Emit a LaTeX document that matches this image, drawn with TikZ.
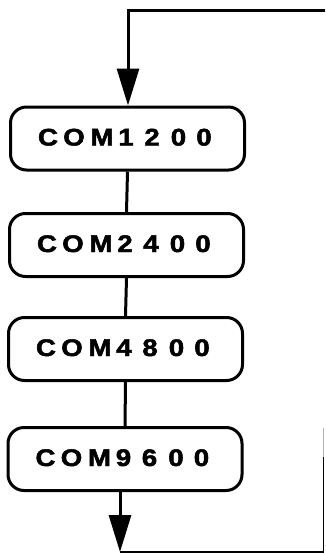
\documentclass[tikz,border=0pt]{standalone}
\usepackage{fontspec}
\usepackage{graphicx}
\setmainfont{Liberation Sans}
\newfontfamily\heavyfont[BoldFeatures={FakeBold=2}]{Liberation Sans}
\usetikzlibrary{arrows.meta,calc}
\newcommand\comlabel[5]{%
  \foreach \ch/\dx [count=\k] in {C/-79.5,O/-53.5,M/-25.5,#2/-1.5,#3/24.5,#4/51,#5/76.5}
    \node[chr] (#1c\k) at ($(#1.center)+(\dx,7)$) {\scalebox{1.15}[1]{\ch}};}
\begin{document}
\begin{tikzpicture}[x=1pt,y=-1pt,
  line width=3pt,
  combox/.style={draw, rounded corners=16pt, minimum width=234pt, minimum height=63pt,
    inner sep=0pt},
  chr/.style={anchor=base, inner sep=0pt, font=\heavyfont\bfseries\fontsize{24pt}{24pt}\selectfont},
  flowarrow/.style={-{Triangle[length=37pt,width=22pt]}},
  thinline/.style={line width=1.6pt}]
\useasboundingbox (0,0) rectangle (325,554);
\node[combox] (b1) at (127.5,138.5) {};
\node[combox] (b2) at (126.5,245) {};
\node[combox] (b3) at (125.5,349) {};
\node[combox] (b4) at (125,459) {};
\comlabel{b1}{1}{2}{0}{0}
\comlabel{b2}{2}{4}{0}{0}
\comlabel{b3}{4}{8}{0}{0}
\comlabel{b4}{9}{6}{0}{0}
\coordinate (tr) at (325,10);
\coordinate (tl) at (128,10);
\coordinate (bs) at (120,490.5);
\coordinate (bl) at (120,552);
\coordinate (br) at (323.5,552);
\coordinate (brm) at (323.5,457);
\coordinate (brt) at (323.5,428);
\draw[flowarrow] (tr) -- (tl) -- (tl |- b1.north);
\draw (b1.south) -- (b2.north);
\draw (b2.south) -- (b3.north);
\draw (b3.south) -- (b4.north);
\draw[flowarrow] (bs) -- (bl);
\draw[thinline] (bl) -- (br) -- (brm);
\draw[thinline, gray!60] (brm) -- (brt);
\end{tikzpicture}
\end{document}
